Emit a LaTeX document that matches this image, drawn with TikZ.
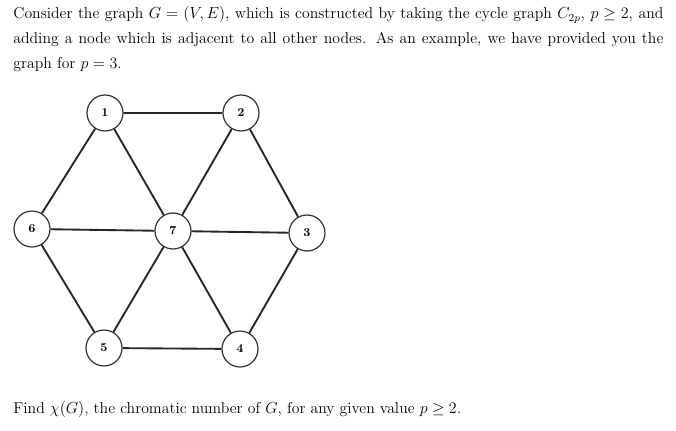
\documentclass[tikz,border=0pt]{standalone}
\usepackage{amssymb}
\begin{document}
\begin{tikzpicture}[x=0.75pt, y=-0.75pt, line width=0.6pt]
  \useasboundingbox (0,0) rectangle (676,431);
  \tikzset{vtx/.style={circle, draw=black!80, fill=white, line width=0.9pt,
      minimum size=27pt, inner sep=0pt, font=\small\bfseries},
    edge/.style={line width=1.4pt, black!85},
    txt/.style={anchor=base west, inner sep=0pt, font=\fontsize{11.8}{14}\selectfont}}
  % question text
  \node[txt] (l1) at (13,19) {\makebox[487.5pt][s]{Consider the graph $G=(V,E)$, which is constructed by taking the cycle graph $C_{2p}$, $p\geq 2$, and}};
  \node[txt] (l2) at (13,44) {\makebox[487.5pt][s]{adding a node which is adjacent to all other nodes. As an example, we have provided you the}};
  \node[txt] (l3) at (13,69) {graph for $p=3$.};
  \node[txt] (l4) at (13,414) {Find $\chi(G)$, the chromatic number of $G$, for any given value $p\geq 2$.};
  % vertices
  \node[vtx] (v1) at (105,113) {1};
  \node[vtx] (v2) at (241,113) {2};
  \node[vtx] (v3) at (307,233) {3};
  \node[vtx] (v4) at (240,349) {4};
  \node[vtx] (v5) at (104,348) {5};
  \node[vtx] (v6) at (32,229) {6};
  \node[vtx] (v7) at (173,231) {7};
  % cycle
  \draw[edge] (v1) -- (v2) -- (v3) -- (v4) -- (v5) -- (v6) -- (v1);
  % hub
  \draw[edge] (v7) -- (v1); \draw[edge] (v7) -- (v2);
  \draw[edge] (v7) -- (v3); \draw[edge] (v7) -- (v4);
  \draw[edge] (v7) -- (v5); \draw[edge] (v7) -- (v6);
\end{tikzpicture}
\end{document}
